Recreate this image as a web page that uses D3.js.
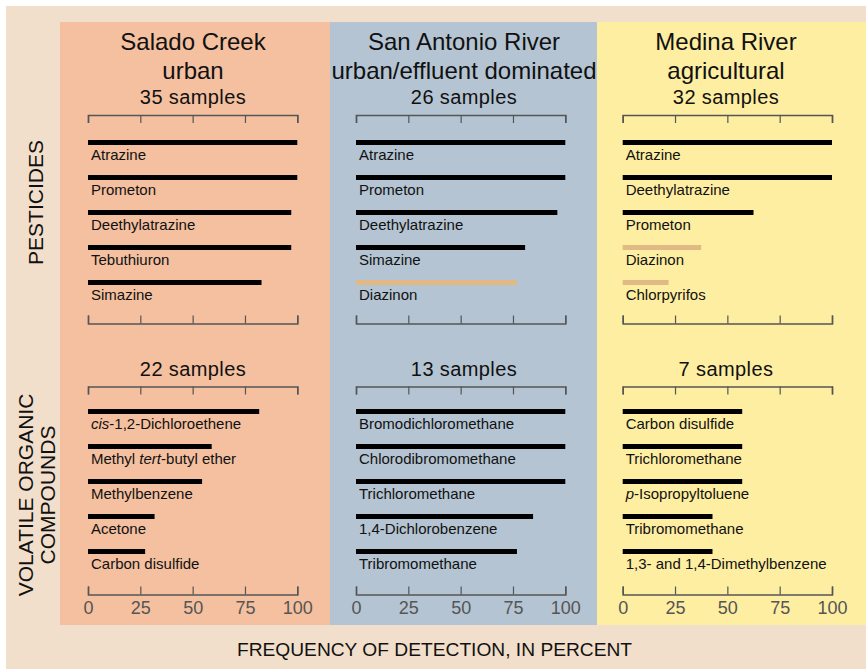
<!DOCTYPE html>
<html>
<head>
<meta charset="utf-8">
<script src="https://cdn.jsdelivr.net/npm/d3@7"></script>
<style>
  html, body { margin: 0; padding: 0; background: #ffffff; }
  svg text { font-family: "Liberation Sans", Arial, Helvetica, sans-serif; }
</style>
</head>
<body>
<svg id="chart" width="866" height="670"></svg>
<script>
// ---- data ----
const sites = ["Salado Creek", "San Antonio River", "Medina River"];
const siteTypes = ["urban", "urban/effluent dominated", "agricultural"];
const pesticideSamples = [35, 26, 32];
const vocSamples = [22, 13, 7];
const tickValues = [0, 25, 50, 75, 100];
const insecticides = ["Diazinon", "Chlorpyrifos"];

const saladoPesticides = ["Atrazine", "Prometon", "Deethylatrazine", "Tebuthiuron", "Simazine"];
const saladoPesticideValues = [100, 100, 97.1, 97.1, 82.9];
const sanAntonioPesticides = ["Atrazine", "Prometon", "Deethylatrazine", "Simazine", "Diazinon"];
const sanAntonioPesticideValues = [100, 100, 96.2, 80.8, 76.9];
const medinaPesticides = ["Atrazine", "Deethylatrazine", "Prometon", "Diazinon", "Chlorpyrifos"];
const medinaPesticideValues = [100, 100, 62.5, 37.5, 21.9];

const saladoVocs = ["<i>cis</i>-1,2-Dichloroethene", "Methyl <i>tert</i>-butyl ether", "Methylbenzene", "Acetone", "Carbon disulfide"];
const saladoVocValues = [81.8, 59.1, 54.5, 31.8, 27.3];
const sanAntonioVocs = ["Bromodichloromethane", "Chlorodibromomethane", "Trichloromethane", "1,4-Dichlorobenzene", "Tribromomethane"];
const sanAntonioVocValues = [100, 100, 100, 84.6, 76.9];
const medinaVocs = ["Carbon disulfide", "Trichloromethane", "<i>p</i>-Isopropyltoluene", "Tribromomethane", "1,3- and 1,4-Dimethylbenzene"];
const medinaVocValues = [57.1, 57.1, 57.1, 42.9, 42.9];

const pesticideNames = [saladoPesticides, sanAntonioPesticides, medinaPesticides];
const pesticideValues = [saladoPesticideValues, sanAntonioPesticideValues, medinaPesticideValues];
const vocNames = [saladoVocs, sanAntonioVocs, medinaVocs];
const vocValues = [saladoVocValues, sanAntonioVocValues, medinaVocValues];

// ---- layout / style ----
const panelColors = ["#f4c0a0", "#b4c4d2", "#feeea1"];
const panelX = [[60, 330], [330, 597], [597, 866]];
const axisX = [[88, 297.3], [356, 565.3], [622.7, 832]];
const titleCX = [193, 464, 726];
const barColor = "#000000";
const insectColor = "#e0b985";
const axisColor = "#555555";
const fontStack = '"Liberation Sans", Arial, Helvetica, sans-serif';

const svg = d3.select("#chart");

// outer background
svg.append("rect").attr("x", 6).attr("y", 6).attr("width", 860).attr("height", 663).attr("fill", "#f1dfcb");

function addLabel(sel, markup) {
  const parts = markup.split(/(<i>.*?<\/i>)/).filter(s => s.length);
  parts.forEach(p => {
    const m = p.match(/^<i>(.*)<\/i>$/);
    sel.append("tspan").text(m ? m[1] : p).attr("font-style", m ? "italic" : "normal");
  });
}

const sections = [
  { names: pesticideNames, values: pesticideValues, samples: pesticideSamples, samplesY: 103.5, topAxis: 115, firstBar: 142.5, lastBar: 282.5, bottomAxis: 323.5, labels: false },
  { names: vocNames, values: vocValues, samples: vocSamples, samplesY: 376, topAxis: 386.5, firstBar: 411.5, lastBar: 551.5, bottomAxis: 594.5, labels: true }
];

sites.forEach((site, si) => {
  const g = svg.append("g");
  g.append("rect")
    .attr("x", panelX[si][0]).attr("y", 22)
    .attr("width", panelX[si][1] - panelX[si][0]).attr("height", 603)
    .attr("fill", panelColors[si]);

  g.append("text").attr("x", titleCX[si]).attr("y", 50).attr("text-anchor", "middle")
    .attr("font-size", 24).attr("fill", "#111").text(site);
  g.append("text").attr("x", titleCX[si]).attr("y", 79).attr("text-anchor", "middle")
    .attr("font-size", 24).attr("fill", "#111").text(siteTypes[si]);

  const x = d3.scaleLinear().domain([0, 100]).range(axisX[si]);

  sections.forEach(sec => {
    g.append("text").attr("x", titleCX[si]).attr("y", sec.samplesY).attr("text-anchor", "middle")
      .attr("font-size", 20).attr("letter-spacing", 0.4).attr("fill", "#111")
      .text(sec.samples[si] + " samples");

    // top axis (ticks pointing down)
    const top = g.append("g").attr("transform", `translate(0,${sec.topAxis})`)
      .call(d3.axisBottom(x).tickValues(tickValues).tickSize(8).tickFormat(""));
    // bottom axis (ticks pointing up)
    const bot = g.append("g").attr("transform", `translate(0,${sec.bottomAxis})`)
      .call(d3.axisBottom(x).tickValues(tickValues).tickSize(-8).tickPadding(7)
        .tickFormat(sec.labels ? d3.format("d") : ""));
    [top, bot].forEach(a => {
      a.select(".domain").attr("stroke", axisColor).attr("stroke-width", 1.6);
      a.selectAll(".tick line").attr("stroke", axisColor).attr("stroke-width", 1.2);
      a.selectAll(".tick text").attr("fill", "#555").attr("font-size", 18).attr("font-family", fontStack);
    });

    const names = sec.names[si];
    const vals = sec.values[si];
    const y = d3.scalePoint().domain(names).range([sec.firstBar, sec.lastBar]);

    g.selectAll(null).data(names).enter().append("rect")
      .attr("x", x(0))
      .attr("y", d => y(d) - 2.5)
      .attr("width", (d, i) => x(vals[i]) - x(0))
      .attr("height", 5)
      .attr("fill", d => insecticides.includes(d) ? insectColor : barColor);

    g.selectAll(null).data(names).enter().append("text")
      .attr("x", x(0) + 3)
      .attr("y", d => y(d) + 17.5)
      .attr("font-size", 15)
      .attr("fill", "#111")
      .each(function(d) { addLabel(d3.select(this), d); });
  });
});

// section labels
svg.append("text").attr("transform", "translate(42.5,202.5) rotate(-90)")
  .attr("text-anchor", "middle").attr("font-size", 21).attr("fill", "#111").text("PESTICIDES");
svg.append("text").attr("transform", "translate(32.5,495) rotate(-90)")
  .attr("text-anchor", "middle").attr("font-size", 21).attr("fill", "#111").text("VOLATILE ORGANIC");
svg.append("text").attr("transform", "translate(55,495) rotate(-90)")
  .attr("text-anchor", "middle").attr("font-size", 21).attr("fill", "#111").text("COMPOUNDS");

// x-axis title
svg.append("text").attr("x", 434.5).attr("y", 656).attr("text-anchor", "middle")
  .attr("font-size", 19.2).attr("fill", "#111").text("FREQUENCY OF DETECTION, IN PERCENT");
</script>
</body>
</html>
